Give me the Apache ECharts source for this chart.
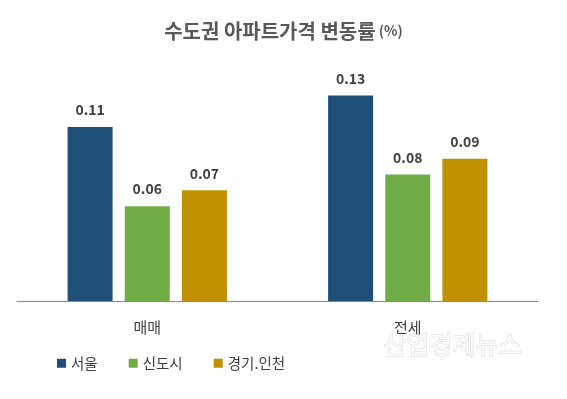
<!DOCTYPE html>
<html>
<head>
<meta charset="utf-8">
<script src="https://cdn.jsdelivr.net/npm/echarts@6/dist/echarts.min.js"></script>
<style>
  html, body { margin: 0; padding: 0; background: #fff; }
  #chart { width: 567px; height: 399px; }
</style>
</head>
<body>
<div id="chart"></div>
<script>
var categories = ['매매', '전세']
var seoul = [0.11, 0.13]
var newTown = [0.06, 0.08]
var gyeonggi = [0.07, 0.09]
var seriesNames = ['서울', '신도시', '경기.인천']

var font = '"Noto Sans CJK KR", "Noto Sans", sans-serif'

var chart = echarts.init(document.getElementById('chart'))

function barSeries(name, data, color) {
    return {
        name: name,
        type: 'bar',
        data: data,
        barWidth: 45,
        barGap: '27%',
        itemStyle: { color: color },
        label: {
            show: true,
            position: 'top',
            distance: 10,
            formatter: function (p) { return p.value.toFixed(2) },
            color: '#404040',
            fontSize: 14,
            fontWeight: 'bold',
            fontFamily: font
        }
    }
}

var option = {
    animation: false,
    title: {
        text: '{a|수도권 아파트가격 변동률}{b| (%)}',
        left: 'center',
        top: 16,
        textStyle: {
            rich: {
                a: { fontSize: 20, fontWeight: 'bold', color: '#595959', fontFamily: font },
                b: { fontSize: 14, color: '#595959', fontFamily: font }
            }
        }
    },
    legend: {
        left: 52,
        top: 351,
        icon: 'rect',
        itemWidth: 9,
        itemHeight: 9,
        itemGap: 31,
        textStyle: { color: '#404040', fontSize: 14.5, fontFamily: font },
        data: seriesNames
    },
    grid: { left: 17, right: 29, top: 48, bottom: 98 },
    xAxis: {
        type: 'category',
        data: categories,
        axisLine: { lineStyle: { color: '#888', width: 1 } },
        axisTick: { show: false },
        axisLabel: { color: '#404040', fontSize: 15, margin: 19, fontFamily: font }
    },
    yAxis: {
        type: 'value',
        min: 0,
        max: 0.16,
        show: false,
        splitLine: { show: false }
    },
    graphic: [{
        type: 'text',
        left: 383,
        top: 331,
        style: {
            text: '산업경제뉴스',
            fill: '#fbfbfb',
            stroke: '#d6d6d6',
            lineWidth: 1,
            fontSize: 25,
            fontFamily: font
        }
    }],
    series: [
        barSeries(seriesNames[0], seoul, '#1F4E79'),
        barSeries(seriesNames[1], newTown, '#70AD47'),
        barSeries(seriesNames[2], gyeonggi, '#BF9000')
    ]
}

option && chart.setOption(option)
</script>
</body>
</html>
